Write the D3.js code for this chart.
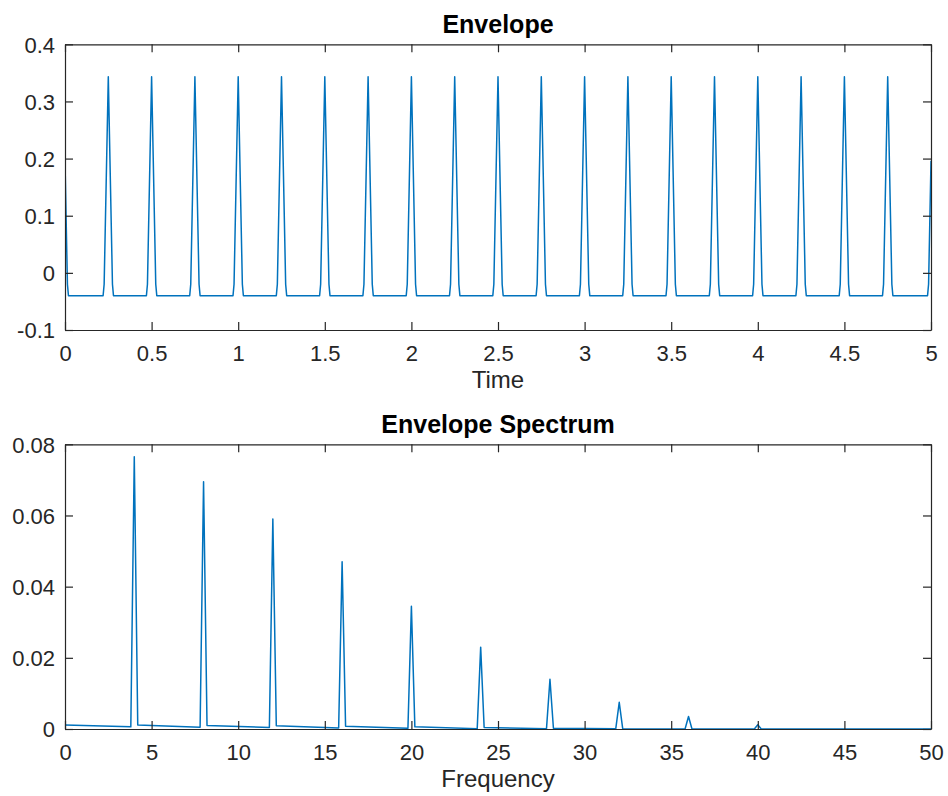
<!DOCTYPE html>
<html>
<head>
<meta charset="utf-8">
<script src="https://cdn.jsdelivr.net/npm/d3@7"></script>
<style>
  html, body { margin: 0; padding: 0; background: #ffffff; }
  svg { display: block; }
  text { font-family: "Liberation Sans", Arial, Helvetica, sans-serif; }
</style>
</head>
<body>
<svg id="chart" width="948" height="796"></svg>
<script>
// ---------------- DATA ----------------
// Top panel: Envelope (time in s, value)
const envTime = [
  0, 0.014, 0.02,
  0.22, 0.226, 0.25, 0.274, 0.28,
  0.47, 0.476, 0.5, 0.524, 0.53,
  0.72, 0.726, 0.75, 0.774, 0.78,
  0.97, 0.976, 1.0, 1.024, 1.03,
  1.22, 1.226, 1.25, 1.274, 1.28,
  1.47, 1.476, 1.5, 1.524, 1.53,
  1.72, 1.726, 1.75, 1.774, 1.78,
  1.97, 1.976, 2.0, 2.024, 2.03,
  2.22, 2.226, 2.25, 2.274, 2.28,
  2.47, 2.476, 2.5, 2.524, 2.53,
  2.72, 2.726, 2.75, 2.774, 2.78,
  2.97, 2.976, 3.0, 3.024, 3.03,
  3.22, 3.226, 3.25, 3.274, 3.28,
  3.47, 3.476, 3.5, 3.524, 3.53,
  3.72, 3.726, 3.75, 3.774, 3.78,
  3.97, 3.976, 4.0, 4.024, 4.03,
  4.22, 4.226, 4.25, 4.274, 4.28,
  4.47, 4.476, 4.5, 4.524, 4.53,
  4.72, 4.726, 4.75, 4.774, 4.78,
  4.98, 4.986, 5.0
];
const envValue = [
  0.196, -0.02, -0.04,
  -0.04, -0.02, 0.343, -0.02, -0.04,
  -0.04, -0.02, 0.343, -0.02, -0.04,
  -0.04, -0.02, 0.343, -0.02, -0.04,
  -0.04, -0.02, 0.343, -0.02, -0.04,
  -0.04, -0.02, 0.343, -0.02, -0.04,
  -0.04, -0.02, 0.343, -0.02, -0.04,
  -0.04, -0.02, 0.343, -0.02, -0.04,
  -0.04, -0.02, 0.343, -0.02, -0.04,
  -0.04, -0.02, 0.343, -0.02, -0.04,
  -0.04, -0.02, 0.343, -0.02, -0.04,
  -0.04, -0.02, 0.343, -0.02, -0.04,
  -0.04, -0.02, 0.343, -0.02, -0.04,
  -0.04, -0.02, 0.343, -0.02, -0.04,
  -0.04, -0.02, 0.343, -0.02, -0.04,
  -0.04, -0.02, 0.343, -0.02, -0.04,
  -0.04, -0.02, 0.343, -0.02, -0.04,
  -0.04, -0.02, 0.343, -0.02, -0.04,
  -0.04, -0.02, 0.343, -0.02, -0.04,
  -0.04, -0.02, 0.343, -0.02, -0.04,
  -0.04, -0.02, 0.196
];
const envXTicks = [0, 0.5, 1, 1.5, 2, 2.5, 3, 3.5, 4, 4.5, 5];
const envXTickLabels = ["0", "0.5", "1", "1.5", "2", "2.5", "3", "3.5", "4", "4.5", "5"];
const envYTicks = [-0.1, 0, 0.1, 0.2, 0.3, 0.4];
const envYTickLabels = ["-0.1", "0", "0.1", "0.2", "0.3", "0.4"];

// Bottom panel: Envelope Spectrum (frequency in Hz, magnitude)
const specFreq = [
  0, 3.8, 4.0, 4.2,
  7.8, 8.0, 8.2,
  11.8, 12.0, 12.2,
  15.8, 16.0, 16.2,
  19.8, 20.0, 20.2,
  23.8, 24.0, 24.2,
  27.8, 28.0, 28.2,
  31.8, 32.0, 32.2,
  35.8, 36.0, 36.2,
  39.8, 40.0, 40.2,
  50
];
const specValue = [
  0.0011, 0.0006, 0.0765, 0.0011,
  0.0005, 0.0695, 0.0010,
  0.0004, 0.0590, 0.0009,
  0.0003, 0.0470, 0.0008,
  0.0002, 0.0345, 0.0006,
  0.0001, 0.0230, 0.0004,
  0.0001, 0.0140, 0.0002,
  0.0001, 0.0075, 0.0001,
  0.0000, 0.0035, 0.0000,
  0.0000, 0.0012, 0.0000,
  0.0000
];
const specXTicks = [0, 5, 10, 15, 20, 25, 30, 35, 40, 45, 50];
const specXTickLabels = ["0", "5", "10", "15", "20", "25", "30", "35", "40", "45", "50"];
const specYTicks = [0, 0.02, 0.04, 0.06, 0.08];
const specYTickLabels = ["0", "0.02", "0.04", "0.06", "0.08"];

const panelTitles = ["Envelope", "Envelope Spectrum"];
const panelXLabels = ["Time", "Frequency"];

// ---------------- DRAWING ----------------
const svg = d3.select("#chart");
const axisColor = "#262626";
const lineColor = "#0072BD";
const tickLen = 8;

function drawPanel(cfg) {
  const { left, right, top, bottom, xDomain, yDomain, xs, ys, xTicks, xTickLabels, yTicks, yTickLabels, title, xLabel } = cfg;
  const x = d3.scaleLinear().domain(xDomain).range([left, right]);
  const y = d3.scaleLinear().domain(yDomain).range([bottom, top]);
  const g = svg.append("g");

  // clip
  const clipId = "clip" + Math.round(top);
  svg.append("clipPath").attr("id", clipId)
    .append("rect").attr("x", left).attr("y", top).attr("width", right - left).attr("height", bottom - top);

  const pts = xs.map((d, i) => [d, ys[i]]);
  g.append("path")
    .datum(pts)
    .attr("clip-path", `url(#${clipId})`)
    .attr("fill", "none")
    .attr("stroke", lineColor)
    .attr("stroke-width", 1.5)
    .attr("stroke-linejoin", "round")
    .attr("d", d3.line().x(d => x(d[0])).y(d => y(d[1])));

  // axes (box with inward ticks on all sides)
  const axBottom = d3.axisBottom(x).tickValues(xTicks).tickSizeInner(-tickLen).tickSizeOuter(0).tickFormat((d, i) => xTickLabels[i]).tickPadding(12);
  const axTop = d3.axisTop(x).tickValues(xTicks).tickSizeInner(-tickLen).tickSizeOuter(0).tickFormat("");
  const axLeft = d3.axisLeft(y).tickValues(yTicks).tickSizeInner(-tickLen).tickSizeOuter(0).tickFormat((d, i) => yTickLabels[i]).tickPadding(18);
  const axRight = d3.axisRight(y).tickValues(yTicks).tickSizeInner(-tickLen).tickSizeOuter(0).tickFormat("");

  function style(sel) {
    sel.select(".domain").attr("stroke", axisColor).attr("stroke-width", 1.2);
    sel.selectAll(".tick line").attr("stroke", axisColor).attr("stroke-width", 1.2);
    sel.selectAll(".tick text").attr("fill", axisColor)
      .style("font-size", "22px")
      .style("font-family", '"Liberation Sans", Arial, sans-serif');
  }
  const gb = g.append("g").attr("transform", `translate(0,${bottom})`).call(axBottom).call(style);
  gb.selectAll(".tick text").attr("dy", null).attr("y", 31).attr("dominant-baseline", "auto");
  g.append("g").attr("transform", `translate(0,${top})`).call(axTop).call(style);
  const gl = g.append("g").attr("transform", `translate(${left},0)`).call(axLeft).call(style);
  gl.selectAll(".tick text").attr("x", -10).attr("dy", "0.35em");
  g.append("g").attr("transform", `translate(${right},0)`).call(axRight).call(style);

  // title
  g.append("text")
    .attr("x", (left + right) / 2)
    .attr("y", top - 11.5)
    .attr("text-anchor", "middle")
    .attr("fill", "#000000")
    .style("font-size", "25px")
    .style("font-weight", "bold")
    .text(title);

  // x label
  g.append("text")
    .attr("x", (left + right) / 2)
    .attr("y", bottom + 58)
    .attr("text-anchor", "middle")
    .attr("fill", axisColor)
    .style("font-size", "24px")
    .text(xLabel);
}

drawPanel({
  left: 65, right: 931, top: 44.3, bottom: 330,
  xDomain: [0, 5], yDomain: [-0.1, 0.4],
  xs: envTime, ys: envValue,
  xTicks: envXTicks, xTickLabels: envXTickLabels,
  yTicks: envYTicks, yTickLabels: envYTickLabels,
  title: panelTitles[0], xLabel: panelXLabels[0]
});

drawPanel({
  left: 65, right: 931, top: 444.3, bottom: 729,
  xDomain: [0, 50], yDomain: [0, 0.08],
  xs: specFreq, ys: specValue,
  xTicks: specXTicks, xTickLabels: specXTickLabels,
  yTicks: specYTicks, yTickLabels: specYTickLabels,
  title: panelTitles[1], xLabel: panelXLabels[1]
});
</script>
</body>
</html>
